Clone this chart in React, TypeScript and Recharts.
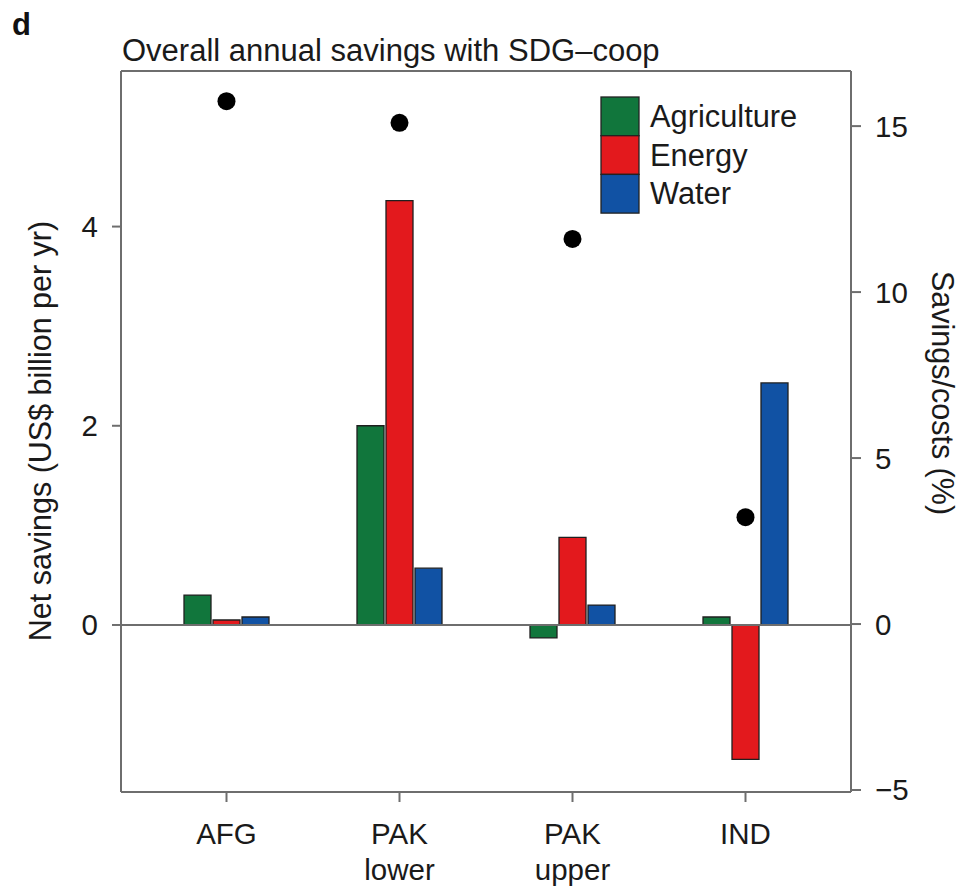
import React from "react";
import {
  ComposedChart,
  Bar,
  Scatter,
  XAxis,
  YAxis,
  ReferenceLine,
  Legend,
} from "recharts";

// regions on the x axis (second line of the tick label after "|")
const regions = ["AFG", "PAK|lower", "PAK|upper", "IND"];

// net savings, US$ billion per yr (left axis)
const agriculture = [0.3, 2.0, -0.13, 0.08];
const energy = [0.05, 4.26, 0.88, -1.35];
const water = [0.08, 0.57, 0.2, 2.43];

// savings / costs, % (right axis)
const savingsCosts = [15.75, 15.1, 11.6, 3.22];

const leftTicks = [0, 2, 4];
const rightTicks = [-5, 0, 5, 10, 15];

const sectors = [
  { key: "agriculture", name: "Agriculture", color: "#11763c" },
  { key: "energy", name: "Energy", color: "#e3191d" },
  { key: "water", name: "Water", color: "#1152a4" },
];

const data = regions.map((name, i) => ({
  name,
  agriculture: agriculture[i],
  energy: energy[i],
  water: water[i],
  ratio: savingsCosts[i],
}));

const FONT = "'Liberation Sans', Arial, Helvetica, sans-serif";
const AXIS = "#6e6e6e";
const INK = "#1a1a1a";
const LEFT_MAX = 5.562;

function RegionTick(props: any) {
  const { x, y, payload } = props;
  const lines = String(payload.value).split("|");
  return (
    <text x={x} y={y} textAnchor="middle" fill={INK} fontSize={29.5} fontFamily={FONT}>
      {lines.map((l, i) => (
        <tspan key={i} x={x} dy={i === 0 ? "0.71em" : "1.22em"}>
          {l}
        </tspan>
      ))}
    </text>
  );
}

function SectorLegend() {
  return (
    <svg width={240} height={124}>
      {sectors.map((s, i) => (
        <g key={s.key}>
          <rect x={1} y={1 + i * 38.7} width={38} height={38.7} fill={s.color} stroke="#222" strokeWidth={1.3} />
          <text x={50} y={20 + i * 38.7} dy="0.36em" fontSize={30.8} fontFamily={FONT} fill={INK}>
            {s.name}
          </text>
        </g>
      ))}
    </svg>
  );
}

export default function App() {
  return (
    <div style={{ position: "absolute", left: 0, top: 0, width: 980, height: 890, background: "#fff", fontFamily: FONT }}>
      <ComposedChart
        width={980}
        height={890}
        data={data}
        margin={{ top: 71, right: 59, bottom: 28, left: 51 }}
        barCategoryGap={44}
        barGap={2}
      >
        <XAxis
          dataKey="name"
          padding={{ left: 19, right: 19 }}
          height={70}
          tick={<RegionTick />}
          tickSize={10}
          tickMargin={21}
          interval={0}
          axisLine={{ stroke: AXIS, strokeWidth: 2 }}
          tickLine={{ stroke: AXIS, strokeWidth: 2 }}
        />
        <YAxis
          yAxisId="left"
          width={70}
          domain={[-1.677, LEFT_MAX]}
          ticks={leftTicks}
          allowDataOverflow
          tickSize={9}
          tickMargin={14}
          tick={{ fontSize: 29.5, fill: INK, fontFamily: FONT }}
          axisLine={{ stroke: AXIS, strokeWidth: 2 }}
          tickLine={{ stroke: AXIS, strokeWidth: 2 }}
        />
        <YAxis
          yAxisId="right"
          orientation="right"
          width={70}
          domain={[-5.06, 16.66]}
          ticks={rightTicks}
          allowDataOverflow
          tickSize={10}
          tickMargin={14}
          tickFormatter={(v: number) => (v < 0 ? `\u2212${Math.abs(v)}` : `${v}`)}
          tick={{ fontSize: 29.5, fill: INK, fontFamily: FONT, textAnchor: "start" }}
          axisLine={{ stroke: AXIS, strokeWidth: 2 }}
          tickLine={{ stroke: AXIS, strokeWidth: 2 }}
        />
        <ReferenceLine yAxisId="left" y={LEFT_MAX} stroke={AXIS} strokeWidth={2} />
        <ReferenceLine yAxisId="left" y={0} stroke={AXIS} strokeWidth={2} />
        {sectors.map((s) => (
          <Bar
            key={s.key}
            yAxisId="left"
            dataKey={s.key}
            name={s.name}
            fill={s.color}
            stroke="#1f1f1f"
            strokeWidth={1.3}
            isAnimationActive={false}
          />
        ))}
        <Scatter
          yAxisId="right"
          dataKey="ratio"
          fill="#000"
          isAnimationActive={false}
          shape={(p: any) => <circle cx={p.cx} cy={p.cy} r={9} fill="#000" />}
        />
        <Legend
          layout="vertical"
          align="center"
          verticalAlign="middle"
          content={() => <SectorLegend />}
          wrapperStyle={{ left: 600, top: 96, width: 240 }}
        />
      </ComposedChart>
      <svg
        width={980}
        height={890}
        style={{ position: "absolute", left: 0, top: 0, pointerEvents: "none" }}
      >
        <text x={12} y={35} fontSize={31} fontWeight="bold" fontFamily={FONT} fill="#111">
          d
        </text>
        <text x={122} y={61} fontSize={31} fontFamily={FONT} fill={INK}>
          Overall annual savings with SDG–coop
        </text>
        <text
          transform="translate(51,431) rotate(-90)"
          textAnchor="middle"
          fontSize={30.5}
          fontFamily={FONT}
          fill={INK}
        >
          Net savings (US$ billion per yr)
        </text>
        <text
          transform="translate(932,393) rotate(90)"
          textAnchor="middle"
          fontSize={30.5}
          fontFamily={FONT}
          fill={INK}
        >
          Savings/costs (%)
        </text>
      </svg>
    </div>
  );
}
